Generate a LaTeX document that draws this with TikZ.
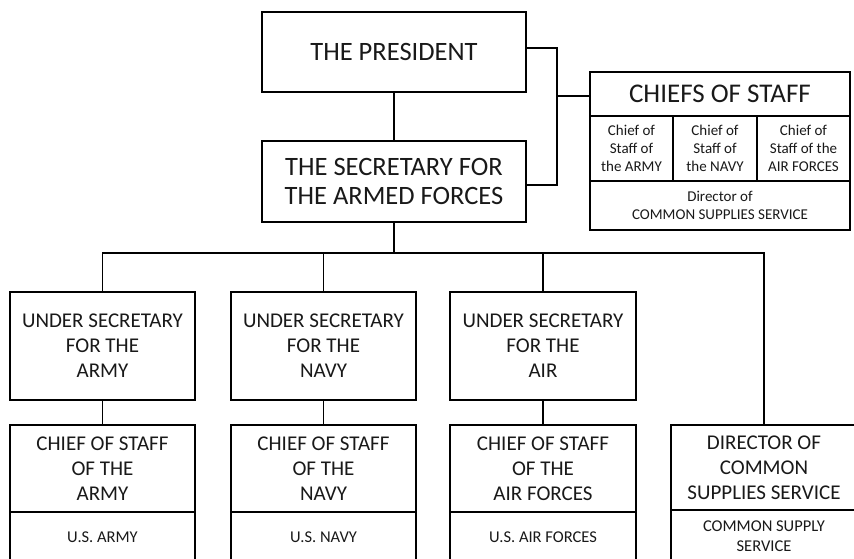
\documentclass[tikz,border=0pt]{standalone}
\usepackage{fontspec}
\setmainfont{Carlito}
\begin{document}
\begin{tikzpicture}[x=1pt,y=-1pt,
  box/.style={draw, line width=1.3pt, rectangle, inner sep=0pt, align=center, text=black!90},
  big/.style={font=\fontsize{26.5}{28.5}\selectfont},
  ttl/.style={font=\fontsize{27}{29}\selectfont},
  mid/.style={font=\fontsize{21}{25}\selectfont},
  sml/.style={font=\fontsize{15}{18}\selectfont},
  low/.style={font=\fontsize{16.5}{20}\selectfont},
  conn/.style={line width=1.3pt}]
\useasboundingbox (0,0) rectangle (854,558);
\clip (0,0) rectangle (854,558);
\fill[white] (0,0) rectangle (854,558);
% top
\node[box,big,minimum width=264pt,minimum height=80pt] (pres) at (394,52) {THE PRESIDENT};
\node[box,big,minimum width=264pt,minimum height=81pt] (sec) at (394,181.5) {THE SECRETARY FOR\\THE ARMED FORCES};
% chiefs of staff
\node[box,ttl,minimum width=260pt,minimum height=44pt] (chT) at (720,94) {CHIEFS OF STAFF};
\node[box,sml,minimum width=83pt,minimum height=65pt] (chA) at (631.5,148.5) {Chief of\\Staff of\\the ARMY};
\node[box,sml,minimum width=84pt,minimum height=65pt] (chN) at (715,148.5) {Chief of\\Staff of\\the NAVY};
\node[box,sml,minimum width=93pt,minimum height=65pt] (chF) at (803.5,148.5) {Chief of\\Staff of the\\AIR FORCES};
\node[box,sml,minimum width=260pt,minimum height=49pt] (chD) at (720,205.5) {Director of\\COMMON SUPPLIES SERVICE};
% under secretaries
\node[box,mid,minimum width=185pt,minimum height=108pt] (usA) at (102.5,346) {UNDER SECRETARY\\FOR THE\\ARMY};
\node[box,mid,minimum width=185pt,minimum height=108pt] (usN) at (323.5,346) {UNDER SECRETARY\\FOR THE\\NAVY};
\node[box,mid,minimum width=186pt,minimum height=108pt] (usF) at (543,346) {UNDER SECRETARY\\FOR THE\\AIR};
% chiefs of staff per service
\node[box,mid,minimum width=185pt,minimum height=87pt] (csA) at (102.5,468.5) {CHIEF OF STAFF\\OF THE\\ARMY};
\node[box,low,minimum width=185pt,minimum height=50pt] (fA) at (102.5,537) {U.S. ARMY};
\node[box,mid,minimum width=185pt,minimum height=87pt] (csN) at (323.5,468.5) {CHIEF OF STAFF\\OF THE\\NAVY};
\node[box,low,minimum width=185pt,minimum height=50pt] (fN) at (323.5,537) {U.S. NAVY};
\node[box,mid,minimum width=186pt,minimum height=87pt] (csF) at (543,468.5) {CHIEF OF STAFF\\OF THE\\AIR FORCES};
\node[box,low,minimum width=186pt,minimum height=50pt] (fF) at (543,537) {U.S. AIR FORCES};
\node[box,mid,minimum width=186pt,minimum height=85pt] (dir) at (764,467.5) {DIRECTOR OF\\COMMON\\SUPPLIES SERVICE};
\node[box,low,minimum width=186pt,minimum height=52pt] (css) at (764,536) {COMMON SUPPLY\\SERVICE};
% connectors
\coordinate (brk) at (557,96);
\coordinate (brkT) at (557,48);
\coordinate (brkB) at (557,185);
\coordinate (bus) at (394,253);
\draw[conn] (pres) -- (sec);
\draw[conn] (pres.east |- brkT) -- (brkT) -- (brkB) -- (sec.east |- brkB);
\draw[conn] (brk) -- (chT.west |- brk);
\draw[conn] (sec.south) -- (bus);
\draw[conn] (usA.north) -- (usA.north |- bus) -- (dir.north |- bus) -- (dir.north);
\draw[conn] (usN.north) -- (usN.north |- bus);
\draw[conn] (usF.north) -- (usF.north |- bus);
\draw[conn] (usA) -- (csA);
\draw[conn] (usN) -- (csN);
\draw[conn] (usF) -- (csF);
\end{tikzpicture}
\end{document}
